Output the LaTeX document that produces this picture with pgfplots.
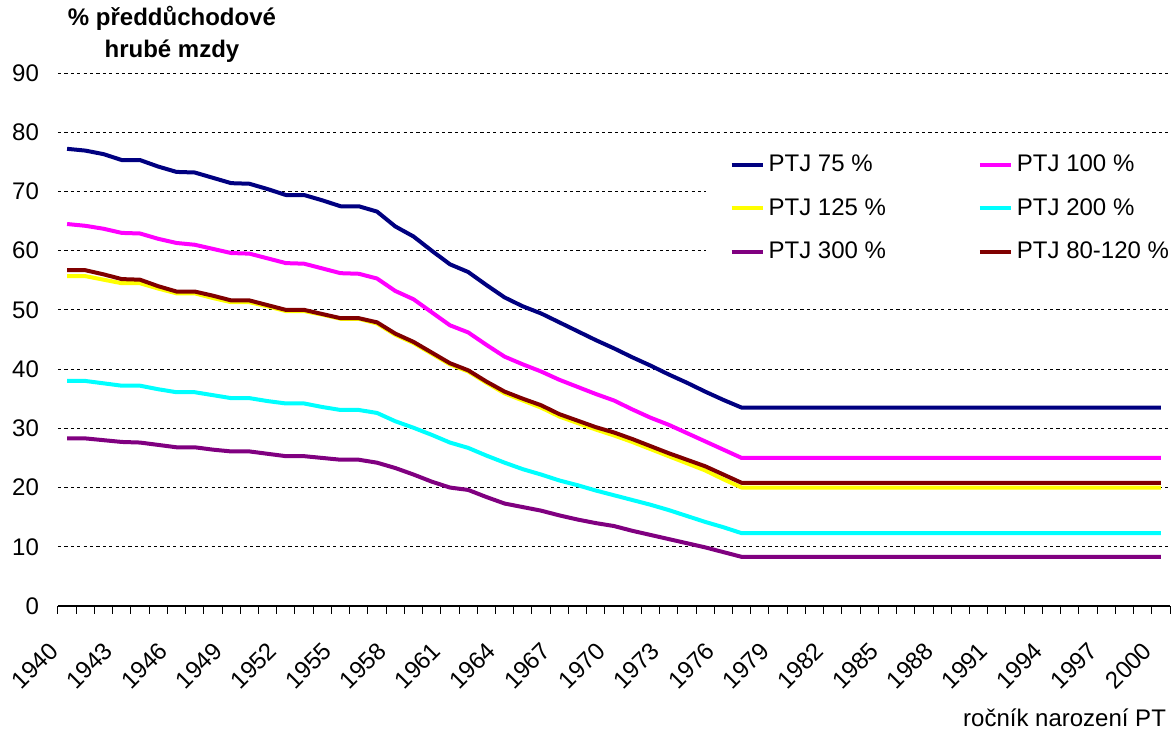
\documentclass[border=0pt]{standalone}
\usepackage{pgfplots}
\usepackage{pgfplotstable}
\pgfplotsset{compat=1.18}
\usepackage{fontspec}
\setmainfont{Liberation Sans}
\definecolor{cNavy}{RGB}{0,0,128}
\definecolor{cMag}{RGB}{255,0,255}
\definecolor{cYel}{RGB}{255,255,0}
\definecolor{cCyan}{RGB}{0,255,255}
\definecolor{cPur}{RGB}{128,0,128}
\definecolor{cBrown}{RGB}{128,0,0}
\pgfplotstableread{
year a75 a100 a125 a200 a300 a80
1940 77.2 64.5 55.7 38.0 28.3 56.7
1941 76.9 64.2 55.7 38.0 28.3 56.7
1942 76.3 63.7 55.1 37.6 28.0 56.0
1943 75.3 63.0 54.5 37.2 27.7 55.2
1944 75.3 62.9 54.5 37.2 27.6 55.1
1945 74.2 62.0 53.6 36.6 27.2 54.0
1946 73.3 61.3 52.8 36.1 26.8 53.1
1947 73.2 61.0 52.8 36.1 26.8 53.1
1948 72.3 60.3 52.0 35.6 26.4 52.4
1949 71.4 59.6 51.3 35.1 26.1 51.6
1950 71.3 59.5 51.3 35.1 26.1 51.6
1951 70.4 58.7 50.6 34.6 25.7 50.8
1952 69.4 57.9 49.8 34.2 25.3 50.0
1953 69.4 57.8 49.8 34.2 25.3 50.0
1954 68.5 57.0 49.2 33.6 25.0 49.3
1955 67.5 56.2 48.5 33.1 24.7 48.6
1956 67.5 56.1 48.5 33.1 24.7 48.6
1957 66.6 55.3 47.7 32.6 24.2 47.9
1958 64.1 53.2 45.8 31.2 23.3 46.0
1959 62.4 51.8 44.4 30.1 22.2 44.6
1960 60.0 49.6 42.6 28.9 21.0 42.8
1961 57.7 47.4 40.8 27.6 20.0 41.0
1962 56.4 46.2 39.6 26.7 19.6 39.8
1963 54.2 44.1 37.7 25.4 18.4 37.9
1964 52.1 42.1 35.9 24.2 17.3 36.2
1965 50.6 40.8 34.7 23.1 16.7 35.0
1966 49.4 39.6 33.5 22.2 16.1 33.9
1967 47.9 38.2 32.0 21.2 15.3 32.4
1968 46.4 37.0 30.9 20.4 14.6 31.3
1969 44.9 35.8 29.8 19.5 14.0 30.2
1970 43.5 34.7 28.8 18.7 13.5 29.3
1971 42.0 33.2 27.7 17.9 12.7 28.2
1972 40.6 31.8 26.5 17.1 12.0 27.0
1973 39.1 30.6 25.3 16.2 11.3 25.8
1974 37.7 29.2 24.1 15.2 10.6 24.7
1975 36.2 27.8 22.9 14.2 9.9 23.6
1976 34.8 26.4 21.4 13.3 9.1 22.2
1977 33.5 25.0 20.0 12.3 8.3 20.8
1990 33.5 25.0 20.0 12.3 8.3 20.8
2000 33.5 25.0 20.0 12.3 8.3 20.8
}\datatable
\begin{document}
\begin{tikzpicture}[font=\fontsize{12}{14.4}\selectfont]
\useasboundingbox (-29pt,-62.5pt) rectangle (556.5pt,303pt);
\begin{axis}[
  at={(0pt,0pt)}, anchor=south west,
  scale only axis, width=556pt, height=266.5pt,
  xmin=1939.5, xmax=2000.5, ymin=0, ymax=90,
  axis lines*=left,
  y axis line style={draw=none},
  x axis line style={black, line width=0.6pt},
  ytick={0,10,...,90},
  xtick={1940,1943,...,2000},
  minor xtick={1939.5,1940.5,...,2000.5},
  tick align=outside,
  major tick length=0pt,
  minor tick length=3.8pt,
  minor tick style={black, line width=0.5pt},
  /pgf/number format/assume math mode=true,
  /pgf/number format/set thousands separator={},
  yticklabel style={anchor=east, xshift=-6pt},
  xticklabel style={rotate=45, anchor=east, xshift=-15.6pt, yshift=-9.7pt},
  ymajorgrids,
  major grid style={black, line width=0.5pt, dash pattern=on 1.6pt off 1.6pt},
  legend columns=2,
  legend cell align=left,
  legend image code/.code={\draw[#1] (0pt,0pt) -- (15.5pt,0pt);},
  legend style={at={(0.582,0.870)}, anchor=north west, draw=none, fill=white,
    inner xsep=12pt, inner ysep=4pt, row sep=8pt,
    /tikz/every even column/.append style={column sep=44pt}},
  every axis plot/.append style={line width=2pt, line join=round},
]
\addplot[cNavy] table[x=year, y=a75] {\datatable};
\addlegendentry{PTJ 75 \%}
\addplot[cMag] table[x=year, y=a100] {\datatable};
\addlegendentry{PTJ 100 \%}
\addplot[cYel] table[x=year, y=a125] {\datatable};
\addlegendentry{PTJ 125 \%}
\addplot[cCyan] table[x=year, y=a200] {\datatable};
\addlegendentry{PTJ 200 \%}
\addplot[cPur] table[x=year, y=a300] {\datatable};
\addlegendentry{PTJ 300 \%}
\addplot[cBrown] table[x=year, y=a80] {\datatable};
\addlegendentry{PTJ 80-120 \%}
\end{axis}
\node[font=\bfseries\fontsize{12}{16}\selectfont, align=center] at (57pt,286pt) {\% předdůchodové\\hrubé mzdy};
\node[anchor=east] at (557.5pt,-56pt) {ročník narození PT};
\end{tikzpicture}
\end{document}
